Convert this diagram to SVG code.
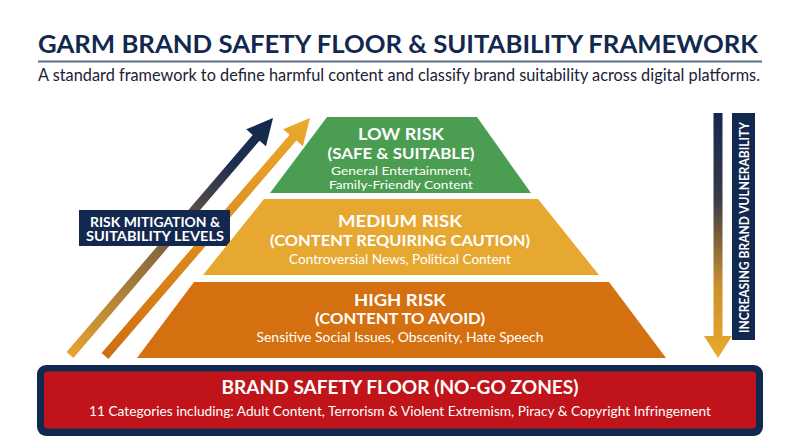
<svg xmlns="http://www.w3.org/2000/svg" width="800" height="447" viewBox="0 0 800 447">
<defs>
<style>
.h{font-family:Lato,"Open Sans","Liberation Sans",sans-serif;font-weight:700;fill:#fff;text-anchor:middle}
.b{font-family:Lato,"Open Sans","Liberation Sans",sans-serif;font-weight:400;fill:#fff;text-anchor:middle}
</style>
<linearGradient id="gDark" gradientUnits="userSpaceOnUse" x1="70" y1="355" x2="273" y2="118">
<stop offset="0" stop-color="#e6a330"/><stop offset="0.5" stop-color="#7a6040"/><stop offset="0.8" stop-color="#1e2f50"/><stop offset="1" stop-color="#13284e"/>
</linearGradient>
<linearGradient id="gOr" gradientUnits="userSpaceOnUse" x1="105" y1="356" x2="310" y2="118">
<stop offset="0" stop-color="#d06f10"/><stop offset="1" stop-color="#eba92c"/>
</linearGradient>
<linearGradient id="gDown" gradientUnits="userSpaceOnUse" x1="0" y1="113" x2="0" y2="358">
<stop offset="0" stop-color="#13284e"/><stop offset="0.35" stop-color="#3a3a48"/><stop offset="0.7" stop-color="#c98f2e"/><stop offset="1" stop-color="#eba92c"/>
</linearGradient>
</defs>
<rect width="800" height="447" fill="#fff"/>
<g id="header">
<text x="38" y="53" font-family="Lato,'Open Sans','Liberation Sans',sans-serif" font-weight="700" font-size="25" fill="#13284e" textLength="720" lengthAdjust="spacingAndGlyphs">GARM BRAND SAFETY FLOOR &amp; SUITABILITY FRAMEWORK</text>
<line x1="38" y1="61.5" x2="762" y2="61.5" stroke="#5f6f88" stroke-width="2"/>
<text x="38" y="81" font-family="Lato,'Open Sans','Liberation Sans',sans-serif" font-size="16.5" fill="#1b2235" textLength="722" lengthAdjust="spacingAndGlyphs">A standard framework to define harmful content and classify brand suitability across digital platforms.</text>
</g>
<g id="connectors">
<polygon fill="url(#gDark)" points="73.4,357.9 259.5,140.7 266,146.3 273,118 246.2,129.3 252.7,134.9 66.6,352.1"/>
<polygon fill="url(#gOr)" points="108.4,358.9 296.4,140.6 302.9,146.2 310,118 283.1,129.2 289.6,134.8 101.6,353.1"/>
<polygon fill="url(#gDown)" points="713.5,113 722.5,113 722.5,336 732,336 718,358 704,336 713.5,336"/>
</g>
<g id="label-mitigation">
<rect x="79" y="210" width="151" height="36" fill="#13284e"/>
<text class="h" x="155" y="226.5" font-size="12.5" textLength="130" lengthAdjust="spacingAndGlyphs">RISK MITIGATION &amp;</text>
<text class="h" x="155" y="241" font-size="12.5" textLength="138" lengthAdjust="spacingAndGlyphs">SUITABILITY LEVELS</text>
</g>
<g id="label-vulnerability">
<rect x="732" y="113" width="23" height="227" fill="#13284e"/>
<text class="h" x="0" y="0" font-size="12.5" transform="translate(748.5,227.5) rotate(-90)" textLength="211" lengthAdjust="spacingAndGlyphs">INCREASING BRAND VULNERABILITY</text>
</g>
<g id="low-risk">
<polygon points="327,117 477,117 531,193 270,193" fill="#4b9d52"/>
<text class="h" x="401" y="140" font-size="17" textLength="86" lengthAdjust="spacingAndGlyphs">LOW RISK</text>
<text class="h" x="401" y="158.5" font-size="15.5" textLength="147" lengthAdjust="spacingAndGlyphs">(SAFE &amp; SUITABLE)</text>
<text class="b" x="401" y="174.5" font-size="12" textLength="140" lengthAdjust="spacingAndGlyphs">General Entertainment,</text>
<text class="b" x="401" y="188.5" font-size="12" textLength="144" lengthAdjust="spacingAndGlyphs">Family-Friendly Content</text>
</g>
<g id="medium-risk">
<polygon points="264,199 538,199 599,275 203,275" fill="#e7a832"/>
<text class="h" x="400" y="226.5" font-size="17" textLength="124" lengthAdjust="spacingAndGlyphs">MEDIUM RISK</text>
<text class="h" x="400" y="245.5" font-size="15.5" textLength="260" lengthAdjust="spacingAndGlyphs">(CONTENT REQUIRING CAUTION)</text>
<text class="b" x="400" y="264" font-size="13" textLength="222" lengthAdjust="spacingAndGlyphs">Controversial News, Political Content</text>
</g>
<g id="high-risk">
<polygon points="194,282 609,282 666,358 137,358" fill="#d4700f"/>
<text class="h" x="400" y="306" font-size="17" textLength="92" lengthAdjust="spacingAndGlyphs">HIGH RISK</text>
<text class="h" x="400" y="324" font-size="15.5" textLength="170" lengthAdjust="spacingAndGlyphs">(CONTENT TO AVOID)</text>
<text class="b" x="400" y="342" font-size="13" textLength="287" lengthAdjust="spacingAndGlyphs">Sensitive Social Issues, Obscenity, Hate Speech</text>
</g>
<g id="safety-floor">
<rect x="37" y="365" width="726" height="71" rx="9" fill="#13284e"/>
<rect x="44" y="371.5" width="712" height="57" rx="3" fill="#c0141a"/>
<text class="h" x="400" y="394" font-size="18" textLength="357" lengthAdjust="spacingAndGlyphs">BRAND SAFETY FLOOR (NO-GO ZONES)</text>
<text class="b" x="400" y="416" font-size="13.5" textLength="622" lengthAdjust="spacingAndGlyphs">11 Categories including: Adult Content, Terrorism &amp; Violent Extremism, Piracy &amp; Copyright Infringement</text>
</g>
</svg>
